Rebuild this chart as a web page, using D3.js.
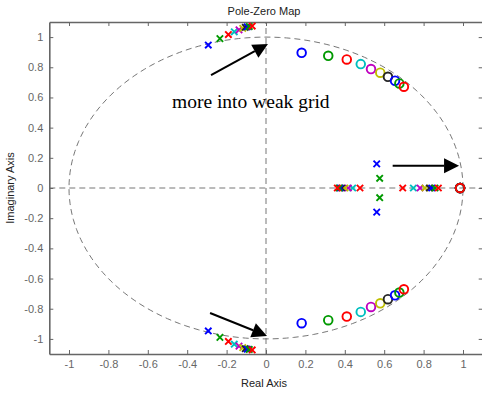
<!DOCTYPE html>
<html>
<head>
<meta charset="utf-8">
<script src="https://cdn.jsdelivr.net/npm/d3@7"></script>
<style>
  html, body { margin: 0; padding: 0; background: #fff; }
  svg { display: block; }
  .tick text { font-family: "Liberation Sans", Arial, sans-serif; font-size: 11px; fill: #666; }
</style>
</head>
<body>
<script>
// Ten cases, each drawn in its own colour (classic colour order, cycled)
const caseNames = ["case 1", "case 2", "case 3", "case 4", "case 5",
                   "case 6", "case 7", "case 8", "case 9", "case 10"];
const caseColors = ["#0000ff", "#009900", "#ff0000", "#00bfbf", "#bf00bf",
                    "#bfbf00", "#262626", "#0000ff", "#009900", "#ff0000"];

// Zeros: a complex pair per case plus one zero close to z = 1
const zeroRe = [0.181, 0.316, 0.41, 0.481, 0.533, 0.58, 0.619, 0.655, 0.677, 0.70];
const zeroIm = [0.896, 0.876, 0.852, 0.821, 0.788, 0.764, 0.737, 0.711, 0.693, 0.671];
const unitZeroRe = [0.985, 0.985, 0.985, 0.985, 0.985, 0.985, 0.985, 0.985, 0.985, 0.985];

// Poles: a lightly damped complex pair near the unit circle
const outerPoleRe = [-0.293, -0.234, -0.191, -0.161, -0.137, -0.118, -0.105, -0.095, -0.085, -0.07];
const outerPoleIm = [0.947, 0.99, 1.017, 1.035, 1.048, 1.058, 1.065, 1.068, 1.07, 1.073];
// ...and two further poles (a complex pair for cases 1-2, two real poles otherwise)
const poleARe = [0.562, 0.577, 0.477, 0.44, 0.418, 0.401, 0.384, 0.376, 0.37, 0.362];
const poleAIm = [0.16, 0.064, 0, 0, 0, 0, 0, 0, 0, 0];
const poleBRe = [0.562, 0.577, 0.694, 0.748, 0.782, 0.807, 0.829, 0.841, 0.858, 0.875];
const poleBIm = [-0.16, -0.064, 0, 0, 0, 0, 0, 0, 0, 0];

const xTicks = [-1, -0.8, -0.6, -0.4, -0.2, 0, 0.2, 0.4, 0.6, 0.8, 1];
const yTicks = [-1, -0.8, -0.6, -0.4, -0.2, 0, 0.2, 0.4, 0.6, 0.8, 1];
const xDomain = [-1.1, 1.1];
const yDomain = [-1.1, 1.1];

// Annotation: arrows [x0, y0, x1, y1] in data units, and the note
const arrows = [
  [-0.279, 0.748, 0.01, 0.954],
  [0.643, 0.148, 0.98, 0.148],
  [-0.284, -0.828, 0.005, -0.98]
];
const noteText = "more into weak grid";
const notePos = [-0.477, 0.53];

const W = 482, H = 396;
const plot = { left: 49.3, right: 482.7, top: 22, bottom: 354 };

const x = d3.scaleLinear().domain(xDomain).range([plot.left, plot.right]);
const y = d3.scaleLinear().domain(yDomain).range([plot.bottom, plot.top]);

const svg = d3.select("body").append("svg")
  .attr("width", W).attr("height", H)
  .style("font-family", "'Liberation Sans', Arial, sans-serif");

const fmt = v => String(+v.toFixed(2));

// Dashed unit circle and the two zero lines
const circlePts = d3.range(0, 361, 2).map(a => [Math.cos(a * Math.PI / 180), Math.sin(a * Math.PI / 180)]);
const line = d3.line().x(d => x(d[0])).y(d => y(d[1]));
const gridStyle = g => g.attr("fill", "none").attr("stroke", "#666")
  .attr("stroke-width", 0.9).attr("stroke-dasharray", "6,4");
svg.append("path").datum(circlePts).attr("d", line).call(gridStyle);
svg.append("path").datum([[xDomain[0], 0], [xDomain[1], 0]]).attr("d", line).call(gridStyle);
svg.append("path").datum([[0, yDomain[0]], [0, yDomain[1]]]).attr("d", line).call(gridStyle);

// Axes: a box with inward ticks, labels on bottom and left only
const axisColor = "#666";
function styleAxis(g) {
  g.select(".domain").attr("stroke", axisColor).attr("stroke-width", 1.6);
  g.selectAll(".tick line").attr("stroke", axisColor).attr("stroke-width", 1);
}
svg.append("g").attr("transform", `translate(0,${plot.bottom})`)
  .call(d3.axisBottom(x).tickValues(xTicks).tickFormat(fmt).tickSizeInner(-4).tickSizeOuter(0).tickPadding(6))
  .call(styleAxis);
svg.append("g").attr("transform", `translate(0,${plot.top})`)
  .call(d3.axisTop(x).tickValues(xTicks).tickFormat("").tickSizeInner(-4).tickSizeOuter(0))
  .call(styleAxis);
svg.append("g").attr("transform", `translate(${plot.left},0)`)
  .call(d3.axisLeft(y).tickValues(yTicks).tickFormat(fmt).tickSizeInner(-4).tickSizeOuter(0).tickPadding(6))
  .call(styleAxis);
svg.append("g").attr("transform", `translate(${plot.right},0)`)
  .call(d3.axisRight(y).tickValues(yTicks).tickFormat("").tickSizeInner(-4).tickSizeOuter(0))
  .call(styleAxis);
svg.selectAll(".tick text").attr("fill", "#666").style("font-size", "11px");

// Titles
svg.append("text").attr("x", 264).attr("y", 14.5).attr("text-anchor", "middle")
  .attr("font-size", 11).attr("fill", "#222").text("Pole-Zero Map");
svg.append("text").attr("x", 264).attr("y", 387).attr("text-anchor", "middle")
  .attr("font-size", 11).attr("fill", "#222").text("Real Axis");
svg.append("text").attr("transform", `translate(14,${(plot.top + plot.bottom) / 2}) rotate(-90)`)
  .attr("text-anchor", "middle").attr("font-size", 11).attr("fill", "#222").text("Imaginary Axis");

// Markers
const marks = svg.append("g");
function drawZero(re, im, color) {
  marks.append("circle").attr("cx", x(re)).attr("cy", y(im)).attr("r", 4.3)
    .attr("fill", "none").attr("stroke", color).attr("stroke-width", 1.9);
}
function drawPole(re, im, color) {
  const cx = x(re), cy = y(im), s = 3.2;
  marks.append("path")
    .attr("d", `M${cx - s},${cy - s}L${cx + s},${cy + s}M${cx - s},${cy + s}L${cx + s},${cy - s}`)
    .attr("stroke", color).attr("stroke-width", 1.9).attr("fill", "none");
}
caseNames.forEach((name, i) => {
  const c = caseColors[i];
  drawZero(zeroRe[i], zeroIm[i], c);
  drawZero(zeroRe[i], -zeroIm[i], c);
  drawZero(unitZeroRe[i], 0, c);
  drawPole(outerPoleRe[i], outerPoleIm[i], c);
  drawPole(outerPoleRe[i], -outerPoleIm[i], c);
  drawPole(poleARe[i], poleAIm[i], c);
  drawPole(poleBRe[i], poleBIm[i], c);
});

// Annotation arrows and note
arrows.forEach(([x0, y0, x1, y1]) => {
  const px0 = x(x0), py0 = y(y0), px1 = x(x1), py1 = y(y1);
  const ang = Math.atan2(py1 - py0, px1 - px0);
  const headLen = 15, headHalf = 7.5;
  const bx = px1 - headLen * Math.cos(ang), by = py1 - headLen * Math.sin(ang);
  svg.append("line").attr("x1", px0).attr("y1", py0).attr("x2", bx).attr("y2", by)
    .attr("stroke", "#000").attr("stroke-width", 2);
  const nx = -Math.sin(ang), ny = Math.cos(ang);
  svg.append("path")
    .attr("d", `M${px1},${py1}L${bx + nx * headHalf},${by + ny * headHalf}L${bx - nx * headHalf},${by - ny * headHalf}Z`)
    .attr("fill", "#000");
});
svg.append("text").attr("x", x(notePos[0])).attr("y", y(notePos[1]))
  .attr("font-family", "'Liberation Serif', 'Times New Roman', serif")
  .attr("font-size", 19.5).attr("fill", "#000").text(noteText);
</script>
</body>
</html>
